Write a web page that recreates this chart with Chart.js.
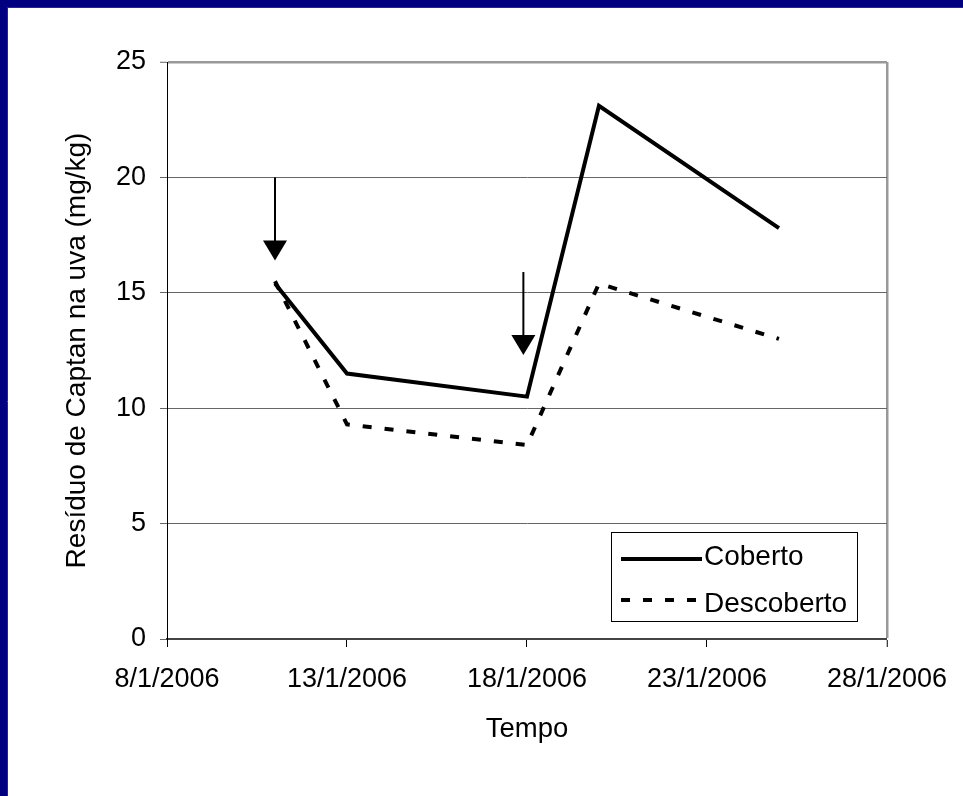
<!DOCTYPE html>
<html>
<head>
<meta charset="utf-8">
<script src="https://cdn.jsdelivr.net/npm/chart.js@4/dist/chart.umd.min.js"></script>
<style>
  html, body { margin: 0; padding: 0; background: #ffffff; }
  canvas { display: block; }
</style>
</head>
<body>
<canvas id="grafico" width="963" height="796"></canvas>
<script>
// Datas de coleta (dia/mês/ano)
const datas = ['11/1/2006', '13/1/2006', '18/1/2006', '20/1/2006', '25/1/2006'];
// Resíduo de Captan (mg/kg)
const coberto    = [15.4, 11.5, 10.5, 23.1, 17.8];
const descoberto = [15.5, 9.3, 8.4, 15.4, 13.0];

// Marcas do eixo do tempo
const diasEixo = [8, 13, 18, 23, 28];
const rotulosX = ['8/1/2006', '13/1/2006', '18/1/2006', '23/1/2006', '28/1/2006'];
const rotulosY = [0, 5, 10, 15, 20, 25];

// Aplicações do fungicida (setas): dia, valor inicial e ponta
const aplicacaoDia = [11, 17.9];
const setaInicio   = [20, 15.9];
const setaPonta    = [16.4, 12.3];

const dia = s => Number(s.split('/')[0]);
const FONTE = "'Liberation Sans', Arial, sans-serif";

const moldura = {
  id: 'moldura',
  beforeDraw(chart) {
    const c = chart.ctx;
    c.save();
    c.fillStyle = '#ffffff';
    c.fillRect(0, 0, chart.width, chart.height);
    c.fillStyle = '#000080';
    c.fillRect(0, 0, chart.width, 7);
    c.fillRect(0, 0, 7, chart.height);
    c.strokeStyle = '#333333';
    c.lineWidth = 1;
    c.beginPath();
    c.moveTo(7, 7.5); c.lineTo(chart.width, 7.5);
    c.moveTo(7.5, 7); c.lineTo(7.5, chart.height);
    c.stroke();
    c.restore();
  }
};

const setas = {
  id: 'setas',
  afterDatasetsDraw(chart) {
    const c = chart.ctx, sx = chart.scales.x, sy = chart.scales.y;
    c.save();
    c.strokeStyle = '#000';
    c.fillStyle = '#000';
    c.lineWidth = 2;
    aplicacaoDia.forEach((d, i) => {
      const x = sx.getPixelForValue(d);
      const y0 = sy.getPixelForValue(setaInicio[i]);
      const y1 = sy.getPixelForValue(setaPonta[i]);
      c.beginPath();
      c.moveTo(x, y0); c.lineTo(x, y1 - 18);
      c.stroke();
      c.beginPath();
      c.moveTo(x, y1);
      c.lineTo(x - 12, y1 - 20);
      c.lineTo(x + 12, y1 - 20);
      c.closePath();
      c.fill();
    });
    c.restore();
  }
};

const legenda = {
  id: 'legenda',
  afterDraw(chart) {
    const c = chart.ctx;
    c.save();
    c.strokeStyle = '#000';
    c.lineWidth = 1;
    c.strokeRect(611.5, 532.5, 246, 89);
    c.font = '28px ' + FONTE;
    c.fillStyle = '#000';
    c.textBaseline = 'alphabetic';
    const linhas = [559, 600], bases = [565, 612];
    chart.data.datasets.forEach((ds, i) => {
      c.beginPath();
      c.lineWidth = ds.borderWidth;
      c.setLineDash(ds.borderDash || []);
      c.moveTo(621, linhas[i]); c.lineTo(702, linhas[i]);
      c.stroke();
      c.setLineDash([]);
      c.fillText(ds.label, 704, bases[i]);
    });
    c.restore();
  }
};

new Chart(document.getElementById('grafico'), {
  type: 'line',
  data: {
    datasets: [
      {
        label: 'Coberto',
        data: datas.map((d, i) => ({ x: dia(d), y: coberto[i] })),
        borderColor: '#000', borderWidth: 4, tension: 0, pointRadius: 0,
        borderJoinStyle: 'miter'
      },
      {
        label: 'Descoberto',
        data: datas.map((d, i) => ({ x: dia(d), y: descoberto[i] })),
        borderColor: '#000', borderWidth: 4, borderDash: [9, 13], tension: 0, pointRadius: 0
      }
    ]
  },
  options: {
    responsive: false,
    animation: false,
    events: [],
    layout: { padding: { left: 0, top: 62, right: 74, bottom: 0 } },
    plugins: { legend: { display: false }, tooltip: { enabled: false } },
    scales: {
      x: {
        type: 'linear',
        min: diasEixo[0], max: diasEixo[diasEixo.length - 1],
        afterBuildTicks: s => { s.ticks = diasEixo.map(v => ({ value: v })); },
        afterFit: s => { s.height = 157; },
        ticks: {
          font: { family: FONTE, size: 27 }, color: '#000', padding: 16,
          maxRotation: 0, autoSkip: false,
          callback: (v, i) => rotulosX[i]
        },
        grid: {
          drawOnChartArea: true, tickLength: 8, tickWidth: 1, tickColor: '#000',
          color: ctx => ctx.index === diasEixo.length - 1 ? '#999' : 'rgba(0,0,0,0)',
          lineWidth: ctx => ctx.index === diasEixo.length - 1 ? 2.5 : 1
        },
        border: { color: '#444', width: 2 },
        title: {
          display: true, text: 'Tempo', color: '#000',
          font: { family: FONTE, size: 27.5 }, padding: { top: 4, bottom: 50 }
        }
      },
      y: {
        min: 0, max: 25,
        afterBuildTicks: s => { s.ticks = rotulosY.map(v => ({ value: v })); },
        afterFit: s => { s.width = 167; },
        ticks: { font: { family: FONTE, size: 27 }, color: '#000', padding: 14 },
        grid: {
          tickLength: 7, tickWidth: 1, tickColor: '#666',
          color: ctx => ctx.index === rotulosY.length - 1 ? '#999' : '#666',
          lineWidth: ctx => ctx.index === rotulosY.length - 1 ? 2.5 : 1
        },
        border: { color: '#000', width: 1 },
        title: {
          display: true, text: 'Resíduo de Captan na uva (mg/kg)', color: '#000',
          font: { family: FONTE, size: 28 }, padding: { top: 60, bottom: 4 }
        }
      }
    }
  },
  plugins: [moldura, setas, legenda]
});
</script>
</body>
</html>
